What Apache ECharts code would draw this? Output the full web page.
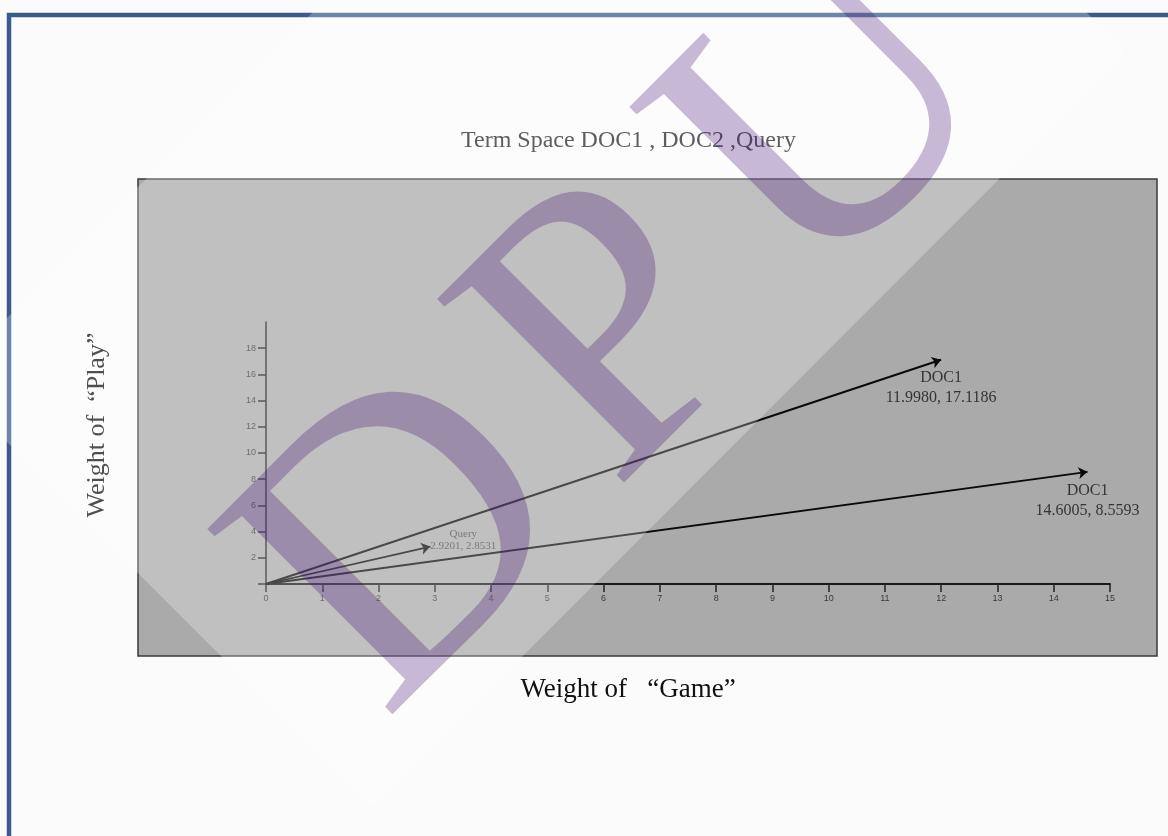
<!DOCTYPE html>
<html>
<head>
<meta charset="utf-8">
<title>Term Space DOC1 , DOC2 ,Query</title>
<script src="https://cdn.jsdelivr.net/npm/echarts@6/dist/echarts.min.js"></script>
<style>
  html, body { margin: 0; padding: 0; background: #fbfbfb; }
  #chart { width: 1168px; height: 836px; }
</style>
</head>
<body>
<div id="chart"></div>
<script>
// vectors in the term space: weight of "Game" on x, weight of "Play" on y
var vectorNames = ['DOC1', 'DOC1', 'Query'];   // the slide labels both documents DOC1
var gameWeights = [11.9980, 14.6005, 2.9201];
var playWeights = [17.1186, 8.5593, 2.8531];

var xTickValues = [0, 1, 2, 3, 4, 5, 6, 7, 8, 9, 10, 11, 12, 13, 14, 15];
var yTickValues = [0, 2, 4, 6, 8, 10, 12, 14, 16, 18];
var yLabelValues = [2, 4, 6, 8, 10, 12, 14, 16, 18];

var serif = '"Liberation Serif", "Times New Roman", serif';
var narrow = '"Liberation Sans Narrow", "Liberation Sans", sans-serif';

var chart = echarts.init(document.getElementById('chart'), null, { renderer: 'canvas' });

// label look for each vector tip
var labelStyles = [
  { position: 'bottom', distance: 8, fontSize: 16, lineHeight: 20, color: '#141414' },
  { position: 'bottom', distance: 8, fontSize: 16, lineHeight: 20, color: '#141414' },
  { position: 'top', distance: 0, offset: [33, 6], fontSize: 11, lineHeight: 12, color: '#333' }
];

// one watermark letter, placed along the rotated baseline
function wmLetter(ch, x) {
  return {
    type: 'text', x: x, y: 0, z: 70, silent: true,
    style: { text: ch, font: '400px ' + serif, fill: 'rgba(60,10,110,0.28)', align: 'left', verticalAlign: 'middle', textAlign: 'left', textVerticalAlign: 'middle' }
  };
}

var option = {
  animation: false,
  backgroundColor: '#fbfbfb',
  title: {
    text: 'Term Space DOC1 , DOC2 ,Query',
    left: 461,
    top: 129,
    padding: 0,
    textStyle: { fontFamily: serif, fontSize: 24, fontWeight: 'normal', color: '#262626' }
  },
  grid: { left: 266, right: 58, top: 322, bottom: 252, containLabel: false },
  xAxis: {
    type: 'value',
    min: 0,
    max: 15,
    interval: 1,
    z: 3,
    splitLine: { show: false },
    axisLine: { onZero: false, lineStyle: { color: '#1a1a1a', width: 2 } },
    axisTick: { length: 8, lineStyle: { color: '#222', width: 1.5 }, customValues: xTickValues },
    axisLabel: { margin: 10, fontFamily: narrow, fontSize: 9, color: '#3a3a3a', customValues: xTickValues }
  },
  yAxis: {
    type: 'value',
    min: 0,
    max: 20,
    interval: 2,
    z: 3,
    splitLine: { show: false },
    axisLine: { show: true, onZero: false, lineStyle: { color: '#222', width: 1.5 } },
    axisTick: { show: true, length: 8, lineStyle: { color: '#222', width: 1.5 }, customValues: yTickValues },
    axisLabel: { margin: 10, fontFamily: narrow, fontSize: 9, color: '#3a3a3a', customValues: yLabelValues }
  },
  series: [
    {
      type: 'lines',
      coordinateSystem: 'cartesian2d',
      z: 4,
      silent: true,
      symbol: ['none', 'arrow'],
      symbolSize: 9,
      lineStyle: { color: '#0a0a0a', width: 2, opacity: 1, curveness: 0 },
      data: vectorNames.map(function (name, i) {
        return {
          name: name,
          coords: [[0, 0], [gameWeights[i], playWeights[i]]],
          lineStyle: { width: i === 2 ? 1.6 : 2 }
        };
      })
    },
    {
      type: 'scatter',
      z: 4,
      silent: true,
      symbolSize: 1,
      itemStyle: { color: 'rgba(0,0,0,0)' },
      label: {
        show: true,
        fontFamily: serif,
        formatter: function (p) {
          return p.name + '\n' + p.value[0].toFixed(4) + ', ' + p.value[1].toFixed(4);
        }
      },
      data: vectorNames.map(function (name, i) {
        return { name: name, value: [gameWeights[i], playWeights[i]], label: labelStyles[i] };
      })
    }
  ],
  graphic: [
    // grey plot panel
    {
      type: 'rect', z: 1, silent: true,
      shape: { x: 138, y: 179, width: 1019, height: 477 },
      style: { fill: '#aaaaaa', stroke: '#3a3a3a', lineWidth: 1.5 }
    },
    // slide frame
    {
      type: 'rect', z: 1, silent: true,
      shape: { x: 9, y: 15, width: 1300, height: 1000 },
      style: { fill: 'none', stroke: '#3a5b8d', lineWidth: 4.5 }
    },
    {
      type: 'text', z: 5, silent: true,
      x: 628, y: 690,
      style: { text: 'Weight of   \u201cGame\u201d', font: '27px ' + serif, fill: '#111', align: 'center', verticalAlign: 'middle', textAlign: 'center', textVerticalAlign: 'middle' }
    },
    {
      type: 'text', z: 5, silent: true,
      x: 97, y: 425, rotation: Math.PI / 2,
      style: { text: 'Weight of  \u201cPlay\u201d', font: '26px ' + serif, fill: '#111', align: 'center', verticalAlign: 'middle', textAlign: 'center', textVerticalAlign: 'middle' }
    },
    // light diagonal band of the watermark
    {
      type: 'polygon', z: 60, silent: true,
      shape: { points: [[-55, 380], [372, 807], [1126, 52], [700, -375]] },
      style: { fill: 'rgba(255,255,255,0.26)' }
    },
    // DPU watermark letters
    {
      type: 'group', z: 70, silent: true,
      x: 310, y: 648, rotation: Math.PI / 4,
      children: [wmLetter('D', 0), wmLetter('P', 325), wmLetter('U', 600)]
    }
  ]
};

chart.setOption(option);
</script>
</body>
</html>
